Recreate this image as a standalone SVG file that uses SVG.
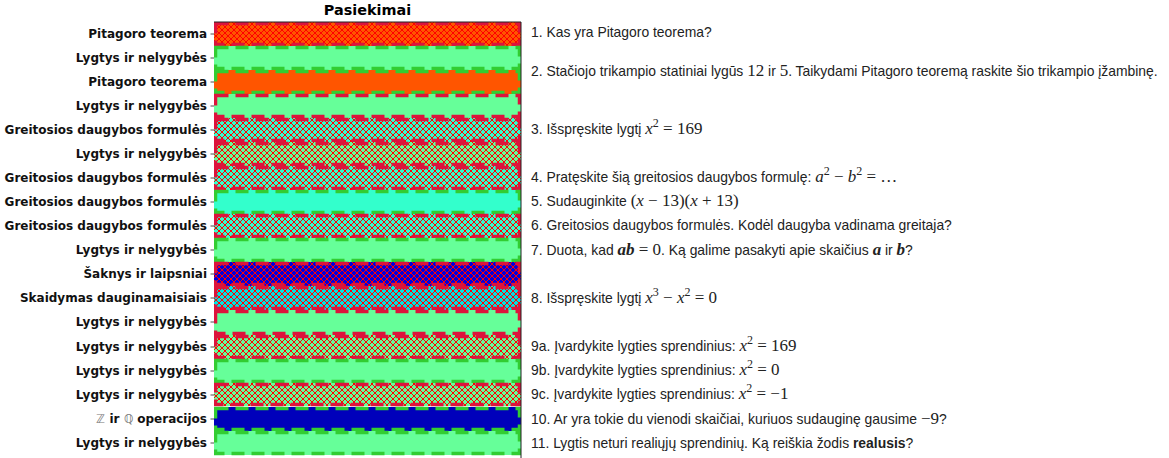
<svg xmlns="http://www.w3.org/2000/svg" width="1169" height="458" viewBox="0 0 1169 458">
<defs>
<pattern id="hatch" patternUnits="userSpaceOnUse" width="6" height="6">
<path d="M0,0L6,6M6,0L0,6M-1,5L1,7M5,-1L7,1M-1,1L1,-1M5,7L7,5" stroke="#FF0000" stroke-width="1" fill="none"/>
</pattern>
<clipPath id="ax"><rect x="214" y="22" width="307" height="436"/></clipPath>
</defs>
<style>
.lbl{font-family:"DejaVu Sans",sans-serif;font-weight:bold;font-size:12px;fill:#111;text-anchor:end}
.ttl{font-family:"DejaVu Sans",sans-serif;font-weight:bold;font-size:14.4px;fill:#000;text-anchor:middle}
.q{font-family:"Liberation Sans",Arial,sans-serif;font-size:13.9px;fill:#222}
.m{font-family:"Liberation Serif","Times New Roman",serif;font-size:17px}
.i{font-style:italic}
.bi{font-style:italic;font-weight:bold}
.sup{font-size:12px}
.or{fill:#FF5500}
.lg{fill:#66FF99}
.aq{fill:#33FFCC}
.cy{fill:#00E2E2}
.bl{fill:#0000DD}
.bl2{fill:#0000BB}
.h{fill:url(#hatch)}
.ec{fill:none;stroke:#DC143C;stroke-width:3.5;stroke-dasharray:13 7}
.eg{fill:none;stroke:#32CD32;stroke-width:3.5;stroke-dasharray:13 7}
.tick{stroke:#222;stroke-width:0.8}
.zq{font-weight:normal;fill:#777}
</style>
<text class="ttl" x="367.5" y="15">Pasiekimai</text>
<g id="bars" clip-path="url(#ax)">
<g id="row1"><rect class="or" x="214" y="22" width="307" height="24"/><rect class="h" x="214" y="22" width="307" height="24"/><rect class="ec" x="215.5" y="23.5" width="304" height="21"/></g>
<g id="row2"><rect class="lg" x="214" y="46" width="307" height="24"/><rect class="eg" x="215.5" y="47.5" width="304" height="21"/></g>
<g id="row3"><rect class="or" x="214" y="70" width="307" height="24"/><rect class="eg" x="215.5" y="71.5" width="304" height="21"/></g>
<g id="row4"><rect class="lg" x="214" y="94" width="307" height="24"/><rect class="ec" x="215.5" y="95.5" width="304" height="21"/></g>
<g id="row5"><rect class="aq" x="214" y="118" width="307" height="24"/><rect class="h" x="214" y="118" width="307" height="24"/><rect class="ec" x="215.5" y="119.5" width="304" height="21"/></g>
<g id="row6"><rect class="lg" x="214" y="142" width="307" height="24"/><rect class="h" x="214" y="142" width="307" height="24"/><rect class="ec" x="215.5" y="143.5" width="304" height="21"/></g>
<g id="row7"><rect class="aq" x="214" y="166" width="307" height="24"/><rect class="h" x="214" y="166" width="307" height="24"/><rect class="ec" x="215.5" y="167.5" width="304" height="21"/></g>
<g id="row8"><rect class="aq" x="214" y="190" width="307" height="24"/><rect class="eg" x="215.5" y="191.5" width="304" height="21"/></g>
<g id="row9"><rect class="aq" x="214" y="214" width="307" height="24"/><rect class="h" x="214" y="214" width="307" height="24"/><rect class="ec" x="215.5" y="215.5" width="304" height="21"/></g>
<g id="row10"><rect class="lg" x="214" y="238" width="307" height="24"/><rect class="eg" x="215.5" y="239.5" width="304" height="21"/></g>
<g id="row11"><rect class="bl" x="214" y="262" width="307" height="24"/><rect class="h" x="214" y="262" width="307" height="24"/><rect class="ec" x="215.5" y="263.5" width="304" height="21"/></g>
<g id="row12"><rect class="cy" x="214" y="286" width="307" height="24"/><rect class="h" x="214" y="286" width="307" height="24"/><rect class="ec" x="215.5" y="287.5" width="304" height="21"/></g>
<g id="row13"><rect class="lg" x="214" y="310" width="307" height="25"/><rect class="ec" x="215.5" y="311.5" width="304" height="22"/></g>
<g id="row14"><rect class="lg" x="214" y="335" width="307" height="24"/><rect class="h" x="214" y="335" width="307" height="24"/><rect class="ec" x="215.5" y="336.5" width="304" height="21"/></g>
<g id="row15"><rect class="lg" x="214" y="359" width="307" height="24"/><rect class="eg" x="215.5" y="360.5" width="304" height="21"/></g>
<g id="row16"><rect class="lg" x="214" y="383" width="307" height="23"/><rect class="h" x="214" y="383" width="307" height="23"/><rect class="ec" x="215.5" y="384.5" width="304" height="20"/></g>
<g id="row17"><rect class="bl2" x="214" y="407" width="307" height="24"/><rect class="eg" x="215.5" y="408.5" width="304" height="21"/></g>
<g id="row18"><rect class="lg" x="214" y="431" width="307" height="24"/><rect class="eg" x="215.5" y="432.5" width="304" height="21"/></g>
</g>
<g id="axes">
<line x1="214" y1="22" x2="521" y2="22" stroke="#222" stroke-width="1"/>
<line x1="521" y1="22" x2="521" y2="458" stroke="#222" stroke-width="1"/>
<path class="tick" d="M210.5,34H214M210.5,58H214M210.5,82H214M210.5,106H214M210.5,130H214M210.5,154H214M210.5,178H214M210.5,202H214M210.5,226H214M210.5,250H214M210.5,274H214M210.5,298H214M210.5,322H214M210.5,347H214M210.5,371H214M210.5,395H214M210.5,419H214M210.5,443H214"/>
</g>
<g id="labels">
<text class="lbl" x="207" y="38">Pitagoro teorema</text>
<text class="lbl" x="207" y="62">Lygtys ir nelygybės</text>
<text class="lbl" x="207" y="86">Pitagoro teorema</text>
<text class="lbl" x="207" y="110">Lygtys ir nelygybės</text>
<text class="lbl" x="207" y="134">Greitosios daugybos formulės</text>
<text class="lbl" x="207" y="158">Lygtys ir nelygybės</text>
<text class="lbl" x="207" y="182">Greitosios daugybos formulės</text>
<text class="lbl" x="207" y="206">Greitosios daugybos formulės</text>
<text class="lbl" x="207" y="230">Greitosios daugybos formulės</text>
<text class="lbl" x="207" y="254">Lygtys ir nelygybės</text>
<text class="lbl" x="207" y="278">Šaknys ir laipsniai</text>
<text class="lbl" x="207" y="302">Skaidymas dauginamaisiais</text>
<text class="lbl" x="207" y="326">Lygtys ir nelygybės</text>
<text class="lbl" x="207" y="351">Lygtys ir nelygybės</text>
<text class="lbl" x="207" y="375">Lygtys ir nelygybės</text>
<text class="lbl" x="207" y="399">Lygtys ir nelygybės</text>
<text class="lbl" x="207" y="423"><tspan class="zq">ℤ</tspan> ir <tspan class="zq">ℚ</tspan> operacijos</text>
<text class="lbl" x="207" y="447">Lygtys ir nelygybės</text>
</g>
<g id="questions">
<text class="q" x="531" y="37">1. Kas yra Pitagoro teorema?</text>
<text class="q" x="531" y="76">2. Stačiojo trikampio statiniai lygūs <tspan class="m">12</tspan> ir <tspan class="m">5</tspan>. Taikydami Pitagoro teoremą raskite šio trikampio įžambinę.</text>
<text class="q" x="531" y="134">3. Išspręskite lygtį <tspan class="m i">x</tspan><tspan class="m sup" dy="-7">2</tspan><tspan class="m" dy="7"> = 169</tspan></text>
<text class="q" x="531" y="182">4. Pratęskite šią greitosios daugybos formulę: <tspan class="m i">a</tspan><tspan class="m sup" dy="-7">2</tspan><tspan class="m" dy="7"> − </tspan><tspan class="m i">b</tspan><tspan class="m sup" dy="-7">2</tspan><tspan class="m" dy="7"> = …</tspan></text>
<text class="q" x="531" y="206">5. Sudauginkite <tspan class="m">(</tspan><tspan class="m i">x</tspan><tspan class="m"> − 13)(</tspan><tspan class="m i">x</tspan><tspan class="m"> + 13)</tspan></text>
<text class="q" x="531" y="230">6. Greitosios daugybos formulės. Kodėl daugyba vadinama greitaja?</text>
<text class="q" x="531" y="255">7. Duota, kad <tspan class="m bi">ab</tspan><tspan class="m"> = 0</tspan>. Ką galime pasakyti apie skaičius <tspan class="m bi">a</tspan> ir <tspan class="m bi">b</tspan>?</text>
<text class="q" x="531" y="303">8. Išspręskite lygtį <tspan class="m i">x</tspan><tspan class="m sup" dy="-7">3</tspan><tspan class="m" dy="7"> − </tspan><tspan class="m i">x</tspan><tspan class="m sup" dy="-7">2</tspan><tspan class="m" dy="7"> = 0</tspan></text>
<text class="q" x="531" y="351">9a. Įvardykite lygties sprendinius: <tspan class="m i">x</tspan><tspan class="m sup" dy="-7">2</tspan><tspan class="m" dy="7"> = 169</tspan></text>
<text class="q" x="531" y="375">9b. Įvardykite lygties sprendinius: <tspan class="m i">x</tspan><tspan class="m sup" dy="-7">2</tspan><tspan class="m" dy="7"> = 0</tspan></text>
<text class="q" x="531" y="399">9c. Įvardykite lygties sprendinius: <tspan class="m i">x</tspan><tspan class="m sup" dy="-7">2</tspan><tspan class="m" dy="7"> = −1</tspan></text>
<text class="q" x="531" y="424">10. Ar yra tokie du vienodi skaičiai, kuriuos sudauginę gausime <tspan class="m">−9</tspan>?</text>
<text class="q" x="531" y="448">11. Lygtis neturi realiųjų sprendinių. Ką reiškia žodis <tspan font-weight="bold">realusis</tspan>?</text>
</g>
</svg>
